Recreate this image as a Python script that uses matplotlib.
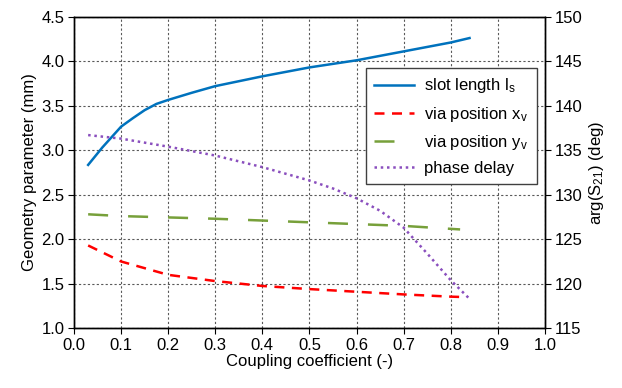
import matplotlib
matplotlib.use("Agg")
import matplotlib.pyplot as plt

plt.rcParams['font.family'] = ['Liberation Sans', 'DejaVu Sans']
plt.rcParams['mathtext.fontset'] = 'custom'
plt.rcParams['mathtext.rm'] = 'Liberation Sans'
plt.rcParams['mathtext.it'] = 'Liberation Sans'

# values
k_slot = [0.03, 0.06, 0.1, 0.125, 0.15, 0.175, 0.2, 0.25, 0.3, 0.4, 0.5, 0.6, 0.7, 0.8, 0.84]
slot_len = [2.835, 3.03, 3.265, 3.36, 3.45, 3.52, 3.565, 3.645, 3.72, 3.83, 3.93, 4.01, 4.11, 4.21, 4.26]

k_xv = [0.03, 0.1, 0.2, 0.3, 0.4, 0.5, 0.6, 0.7, 0.8, 0.83]
via_x = [1.93, 1.75, 1.60, 1.53, 1.475, 1.44, 1.41, 1.38, 1.355, 1.35]

k_yv = [0.03, 0.1, 0.2, 0.3, 0.4, 0.5, 0.6, 0.7, 0.82]
via_y = [2.28, 2.26, 2.245, 2.23, 2.21, 2.19, 2.17, 2.15, 2.11]

k_ph = [0.03, 0.1, 0.2, 0.3, 0.4, 0.5, 0.55, 0.6, 0.65, 0.7, 0.75, 0.8, 0.842]
phase = [136.7, 136.3, 135.4, 134.4, 133.1, 131.6, 130.7, 129.6, 128.2, 126.3, 123.4, 120.4, 118.2]

fig = plt.figure(figsize=(6.22, 3.88), dpi=100)
ax = fig.add_axes([0.119, 0.154, 0.757, 0.803])
ax2 = ax.twinx()

l1, = ax.plot(k_slot, slot_len, color='#0072BD', lw=1.8, label='slot length l$_\\mathrm{s}$')
l2, = ax.plot(k_xv, via_x, color='#FF0000', lw=1.8, ls=(0, (4, 3)), label='via position x$_\\mathrm{v}$')
l3, = ax.plot(k_yv, via_y, color='#77A03A', lw=1.8, ls=(0, (8, 8)), label='via position y$_\\mathrm{v}$')
l4, = ax2.plot(k_ph, phase, color='#8A4FBE', lw=1.8, ls=(0, (1, 1.5)), label='phase delay')

ax.set_xlim(0, 1)
ax.set_ylim(1.0, 4.5)
ax2.set_ylim(115, 150)
ax.set_xticks([i / 10 for i in range(11)])
ax.set_yticks([1.0, 1.5, 2.0, 2.5, 3.0, 3.5, 4.0, 4.5])
ax2.set_yticks(range(115, 151, 5))

ax.grid(True, color='0.35', ls=(0, (2, 2)), lw=0.8)
for a in (ax, ax2):
    a.tick_params(labelsize=12, direction='out', length=4, width=0.8, top=False, pad=3)
    for s in a.spines.values():
        s.set_linewidth(1.0)

ax.set_xlabel('Coupling coefficient (-)', fontsize=12, labelpad=1)
ax.set_ylabel('Geometry parameter (mm)', fontsize=12, labelpad=3)
ax2.set_ylabel('arg(S$_\\mathrm{21}$) (deg)', fontsize=12, labelpad=3)

leg = ax2.legend(handles=[l1, l2, l3, l4], loc='upper right', bbox_to_anchor=(0.983, 0.835),
                 borderaxespad=0, fancybox=False, edgecolor='0.25', framealpha=1,
                 fontsize=12, handlelength=2.4, handletextpad=0.6, labelspacing=0.55,
                 borderpad=0.5)
leg.get_frame().set_linewidth(1.0)

fig.savefig('out.png', dpi=100)
